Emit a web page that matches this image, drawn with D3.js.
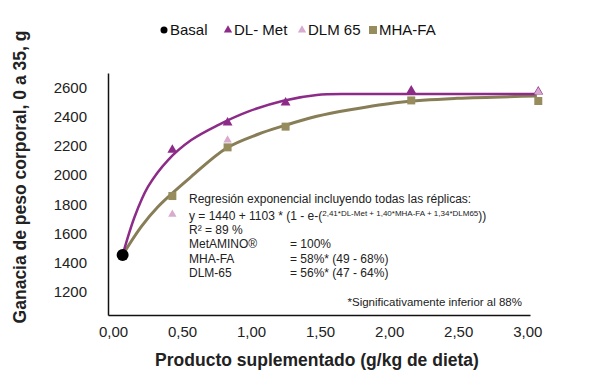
<!DOCTYPE html>
<html>
<head>
<meta charset="utf-8">
<script src="https://cdn.jsdelivr.net/npm/d3@7"></script>
<style>
  body { margin: 0; background: #fff; }
  svg { font-family: "Liberation Sans", Arial, sans-serif; }
</style>
</head>
<body>
<svg id="chart"></svg>
<script>
// values
var basalX = [0.07], basalY = [1452];
var dlMetX = [0.43, 0.83, 1.25, 2.16, 3.08];
var dlMetY = [2172, 2359, 2497, 2579, 2572];
var dlm65X = [0.43, 0.83, 3.08];
var dlm65Y = [1730, 2240, 2570];
var mhaX = [0.43, 0.83, 1.25, 2.16, 3.08];
var mhaY = [1856, 2190, 2332, 2512, 2508];

// fitted curves, traced
var fitMetX = [0.07, 0.157, 0.254, 0.399, 0.567, 0.761, 0.978, 1.234, 1.476, 1.717, 2.08, 3.06];
var fitMetY = [1452, 1714, 1920, 2103, 2240, 2343, 2435, 2510, 2549, 2556, 2556, 2556];
var fitMhaX = [0.07, 0.205, 0.326, 0.567, 0.821, 1.051, 1.234, 1.476, 1.717, 2.08, 2.491, 3.07];
var fitMhaY = [1452, 1646, 1783, 1989, 2184, 2280, 2337, 2403, 2448, 2500, 2526, 2542];

var xTicks = [0, 0.5, 1, 1.5, 2, 2.5, 3];
var yTicks = [1200, 1400, 1600, 1800, 2000, 2200, 2400, 2600];

var legendNames = ["Basal", "DL- Met", "DLM 65", "MHA-FA"];
var noteLines = [
  ["R\u00b2 = 89 %", ""],
  ["MetAMINO\u00ae", "= 100%"],
  ["MHA-FA", "= 58%* (49 - 68%)"],
  ["DLM-65", "= 56%* (47 - 64%)"]
];

var purple = "#8c2b88", pink = "#d8aad0", olive = "#978c5e", oliveLine = "#877d57";

var width = 600, height = 381;
var svg = d3.select("#chart").attr("width", width).attr("height", height);

var x = d3.scaleLinear().domain([-0.036, 3.02]).range([108, 530]);
var y = d3.scaleLinear().domain([1040, 2700]).range([315, 73]);

var commaFmt = function(d) { return d3.format(".2f")(d).replace(".", ","); };

var xAxis = svg.append("g")
  .attr("transform", "translate(0,315)")
  .call(d3.axisBottom(x).tickValues(xTicks).tickFormat(commaFmt).tickSize(0).tickPadding(11));
var yAxis = svg.append("g")
  .attr("transform", "translate(108,0)")
  .call(d3.axisLeft(y).tickValues(yTicks).tickFormat(d3.format("d")).tickSize(0).tickPadding(21));

[xAxis, yAxis].forEach(function(a) {
  a.select(".domain").attr("stroke", "#111").attr("stroke-width", 1.5);
  a.selectAll("text").attr("font-size", 15).attr("fill", "#222")
    .attr("font-family", "'Liberation Sans', Arial, sans-serif");
});

// curves
var line = d3.line()
  .x(function(d) { return x(d[0]); })
  .y(function(d) { return y(d[1]); })
  .curve(d3.curveCatmullRom.alpha(0.5));

svg.append("path")
  .datum(d3.zip(fitMhaX, fitMhaY))
  .attr("d", line)
  .attr("fill", "none").attr("stroke", oliveLine).attr("stroke-width", 3);
svg.append("path")
  .datum(d3.zip(fitMetX, fitMetY))
  .attr("d", line)
  .attr("fill", "none").attr("stroke", purple).attr("stroke-width", 2.5);

// markers
var tri = d3.symbol().type(d3.symbolTriangle).size(42);
var sq = d3.symbol().type(d3.symbolSquare).size(64);

svg.append("g").selectAll("path")
    .data(d3.zip(mhaX, mhaY))
  .enter().append("path")
    .attr("d", sq)
    .attr("transform", function(d) { return "translate(" + x(d[0]) + "," + y(d[1]) + ")"; })
    .attr("fill", olive);

svg.append("g").selectAll("path")
    .data(d3.zip(dlMetX, dlMetY))
  .enter().append("path")
    .attr("d", tri)
    .attr("transform", function(d) { return "translate(" + x(d[0]) + "," + y(d[1]) + ")"; })
    .attr("fill", purple);

svg.append("g").selectAll("path")
    .data(d3.zip(dlm65X, dlm65Y))
  .enter().append("path")
    .attr("d", d3.symbol().type(d3.symbolTriangle).size(30))
    .attr("transform", function(d) { return "translate(" + x(d[0]) + "," + y(d[1]) + ")"; })
    .attr("fill", pink);

svg.append("g").selectAll("circle")
    .data(d3.zip(basalX, basalY))
  .enter().append("circle")
    .attr("cx", function(d) { return x(d[0]); })
    .attr("cy", function(d) { return y(d[1]); })
    .attr("r", 6)
    .attr("fill", "#000");

// legend
var legX = [164, 228, 302, 373];
var leg = svg.append("g").attr("font-size", 15).attr("fill", "#111");
legendNames.forEach(function(name, i) {
  var g = leg.append("g").attr("transform", "translate(" + legX[i] + ",29)");
  if (i == 0) g.append("circle").attr("r", 3.5).attr("cy", 1).attr("fill", "#000");
  else if (i == 3) g.append("rect").attr("x", -4).attr("y", -3).attr("width", 8).attr("height", 8).attr("fill", olive);
  else g.append("path").attr("d", d3.symbol().type(d3.symbolTriangle).size(30)).attr("transform", "translate(0,1)")
    .attr("fill", i == 1 ? purple : pink);
  g.append("text").attr("x", 6).attr("y", 5.5).text(name);
});

// annotation
var note = svg.append("g").attr("font-size", 12).attr("fill", "#222");
note.append("text").attr("x", 189).attr("y", 203).text("Regresi\u00f3n exponencial incluyendo todas las r\u00e9plicas:");
var eq = note.append("text").attr("x", 189).attr("y", 220);
eq.append("tspan").text("y = 1440 + 1103 * (1 - e-(");
eq.append("tspan").attr("font-size", 8).attr("dy", -4).text("2,41*DL-Met + 1,40*MHA-FA + 1,34*DLM65");
eq.append("tspan").attr("dy", 4).text("))");
noteLines.forEach(function(l, i) {
  var yy = 234 + i * 14.3;
  note.append("text").attr("x", 189).attr("y", yy).text(l[0]);
  note.append("text").attr("x", 290).attr("y", yy).text(l[1]);
});
svg.append("text").attr("x", 522).attr("y", 306).attr("text-anchor", "end")
  .attr("font-size", 11.5).attr("fill", "#222")
  .text("*Significativamente inferior al 88%");

// axis titles
svg.append("text").attr("x", 317).attr("y", 366).attr("text-anchor", "middle")
  .attr("font-size", 17.5).attr("font-weight", "bold").attr("fill", "#222")
  .text("Producto suplementado (g/kg de dieta)");
svg.append("text").attr("transform", "translate(26,177) rotate(-90)").attr("text-anchor", "middle")
  .attr("font-size", 17.5).attr("font-weight", "bold").attr("fill", "#222")
  .text("Ganacia de peso corporal, 0 a 35, g");
</script>
</body>
</html>
